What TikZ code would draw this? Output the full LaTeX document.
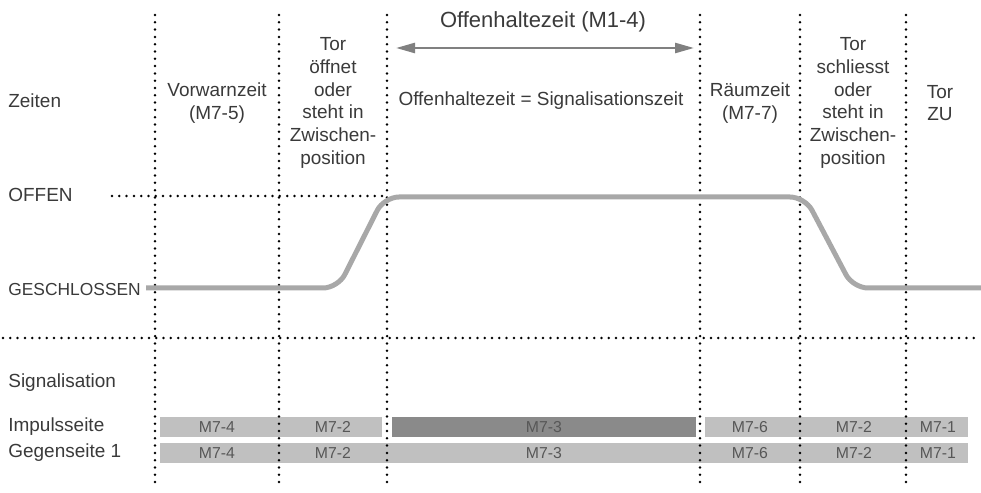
\documentclass[tikz,border=0pt]{standalone}
\usepackage{fontspec}
\setmainfont{Liberation Sans}
\usepackage{xcolor}
\definecolor{txtgray}{RGB}{58,58,58}
\definecolor{curvegray}{RGB}{168,168,168}
\definecolor{arrgray}{RGB}{128,128,128}
\definecolor{barlight}{RGB}{192,192,192}
\definecolor{bardark}{RGB}{138,138,138}
\usetikzlibrary{arrows.meta}

\tikzset{
  dotline/.style={line width=0.055cm, line cap=round, dash pattern=on 0pt off 0.146cm},
  lbl/.style={font=\fontsize{10.8}{13}\selectfont, text=txtgray, inner sep=0pt},
  rowlbl/.style={lbl, anchor=west},
  colhead/.style={lbl, align=center},
  bar/.style={inner sep=0pt, minimum height=0.4cm},
  barlbl/.style={font=\fontsize{9}{10}\selectfont, text=txtgray!85, inner sep=0pt},
}

\begin{document}
\begin{tikzpicture}[x=0.02cm, y=-0.02cm]

\useasboundingbox (0,0) rectangle (981,493);

% === Signal bars ===
\node[bar, fill=barlight, minimum width=4.44cm] (imp1) at (271,427) {};
\node[bar, fill=bardark,  minimum width=6.08cm] (imp2) at (544,427) {};
\node[bar, fill=barlight, minimum width=5.26cm] (imp3) at (836.5,427) {};
\node[bar, fill=barlight, minimum width=16.16cm] (geg) at (564,453) {};

\node[barlbl] (i74) at (217,427) {M7-4};
\node[barlbl] (i72a) at (333,427) {M7-2};
\node[barlbl] (i73) at (544,427) {M7-3};
\node[barlbl] (i76) at (750,427) {M7-6};
\node[barlbl] (i72b) at (854,427) {M7-2};
\node[barlbl] (i71) at (938,427) {M7-1};

\node[barlbl] (g74) at (217,453) {M7-4};
\node[barlbl] (g72a) at (333,453) {M7-2};
\node[barlbl] (g73) at (544,453) {M7-3};
\node[barlbl] (g76) at (750,453) {M7-6};
\node[barlbl] (g72b) at (854,453) {M7-2};
\node[barlbl] (g71) at (938,453) {M7-1};

% === Dotted grid ===
\foreach \xx in {155,279,387,700,800,906}
  \draw[dotline] (\xx,15) -- (\xx,488);
\draw[dotline] (112,196) -- (387,196);
\draw[dotline] (3,338) -- (979,338);

% === Gate position curve ===
\draw[curvegray, line width=0.1cm, rounded corners=0.3cm]
  (146,288) -- (338,288) -- (384,197) -- (805,197) -- (853,288) -- (981,288);

% === Hold-open arrow ===
\node[font=\fontsize{12.5}{15}\selectfont, text=txtgray, inner sep=0pt] (title) at (543,22) {Offenhaltezeit (M1-4)};
\coordinate (arrL) at (396,48);
\coordinate (arrR) at (694,48);
\draw[arrgray, line width=0.05cm, {Triangle[length=0.38cm,width=0.2cm]}-{Triangle[length=0.38cm,width=0.2cm]}]
  (arrL) -- (arrR);

% === Column headings ===
\node[colhead] (vorwarn) at (217,103) {Vorwarnzeit\\(M7-5)};
\node[colhead] (toroeffnet) at (333,103) {Tor\\öffnet\\oder\\steht in\\Zwischen-\\position};
\node[colhead] (offenhalt) at (541,101) {Offenhaltezeit = Signalisationszeit};
\node[colhead] (raeum) at (750,103) {Räumzeit\\(M7-7)};
\node[colhead] (torschliesst) at (853,103) {Tor\\schliesst\\oder\\steht in\\Zwischen-\\position};
\node[colhead] (torzu) at (940,103) {Tor\\ZU};

% === Row labels ===
\node[rowlbl] (zeiten) at (8,101) {Zeiten};
\node[rowlbl] (offen) at (8,195) {OFFEN};
\node[rowlbl, font=\fontsize{9.9}{12}\selectfont] (geschl) at (8,290) {GESCHLOSSEN};
\node[rowlbl] (signal) at (8,383) {Signalisation};
\node[rowlbl] (impuls) at (8,427) {Impulsseite};
\node[rowlbl] (gegen) at (8,453) {Gegenseite 1};

\end{tikzpicture}
\end{document}
